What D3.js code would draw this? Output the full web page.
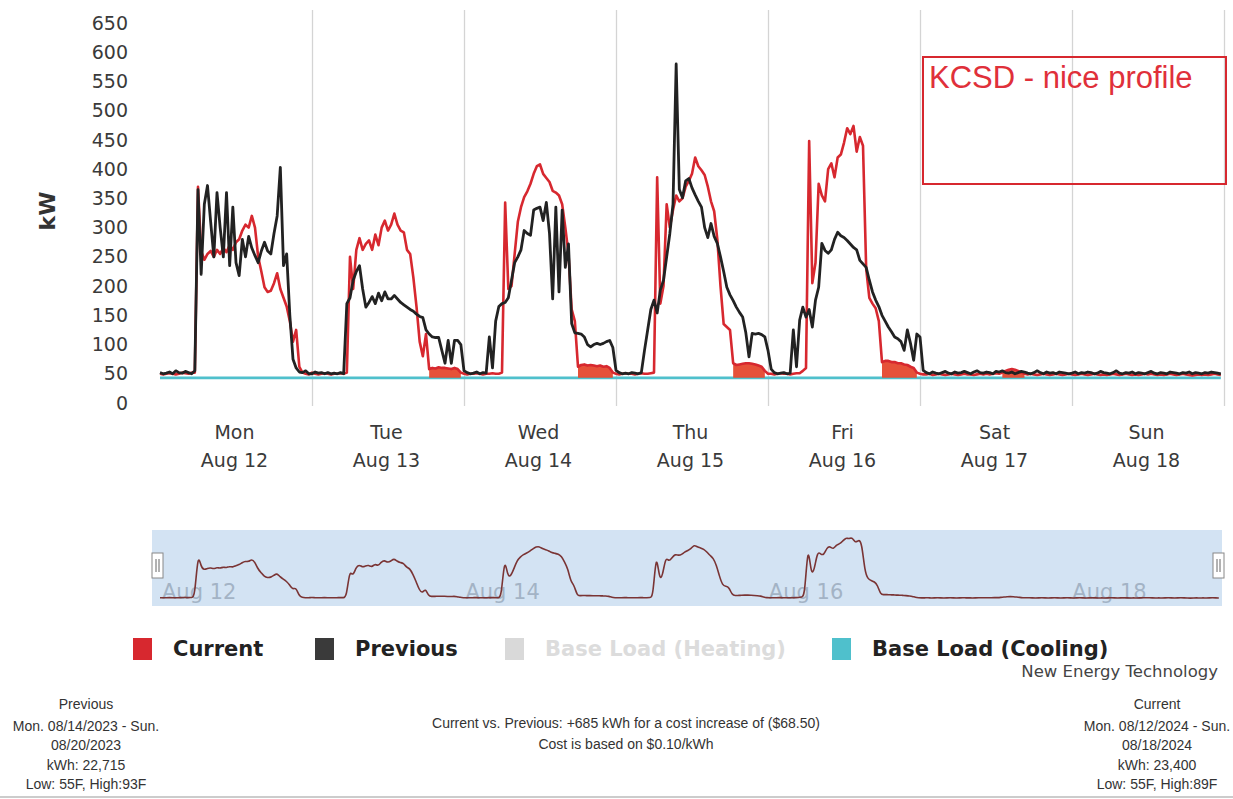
<!DOCTYPE html>
<html><head><meta charset="utf-8">
<script src="https://cdn.jsdelivr.net/npm/d3@7"></script>
<style>body{margin:0;background:#fff}svg{display:block}</style>
</head><body>
<svg id="c" width="1233" height="799"></svg>
<script>
// ---------- DATA (half-hour readings, kW) ----------
const dayNames = ["Mon","Tue","Wed","Thu","Fri","Sat","Sun"];
const dayDates = ["Aug 12","Aug 13","Aug 14","Aug 15","Aug 16","Aug 17","Aug 18"];
const navLabels = ["Aug 12","Aug 14","Aug 16","Aug 18"];
const navLabelDays = [0,2,4,6];
const yTicks = [0,50,100,150,200,250,300,350,400,450,500,550,600,650];

const currentMon = [50,49,50,51,50,49,50,52,51,50,52,52,370,260,245,255,260,250,262,255,265,258,270,262,275,280,295,305,300,320,300,250,225,198,190,192,205,222,195,180,165,140,105,125,62,52,50,49];
const currentTue = [52,50,49,50,51,50,49,50,50,51,50,52,250,195,262,282,262,272,278,262,288,270,300,312,295,305,324,305,295,292,262,255,215,165,105,80,118,58,60,59,61,60,60,59,58,60,58,52];
const currentWed = [50,49,50,50,51,50,49,50,50,51,50,50,52,343,195,200,255,310,335,352,362,375,392,405,408,392,385,378,363,360,355,340,300,255,160,140,62,65,66,64,65,64,63,64,62,63,60,52];
const currentThu = [50,49,50,51,50,50,49,50,51,50,50,51,52,386,170,200,340,300,330,355,345,350,370,380,392,420,405,398,390,370,345,328,280,200,135,130,125,68,65,66,67,68,68,67,66,64,62,55];
const currentFri = [50,50,49,50,51,50,50,49,50,51,51,55,60,448,205,240,375,355,345,400,410,386,420,425,445,470,460,474,430,455,440,230,180,170,162,140,70,72,72,70,70,68,68,66,65,62,60,52];
const currentSat = [50,49,49,50,48,49,50,49,48,49,50,49,48,49,50,49,49,48,49,50,49,50,49,50,51,50,52,55,57,58,57,55,52,50,49,50,49,48,49,50,49,48,49,50,49,48,49,50];
const currentSun = [49,48,49,50,49,48,49,50,49,48,49,48,49,50,49,48,49,50,49,48,49,48,49,50,49,50,49,48,49,48,49,50,49,48,49,50,49,48,47,48,49,48,49,48,49,50,49,48];

const previousMon = [52,50,51,53,50,55,52,51,54,52,50,55,365,220,340,372,310,250,360,300,250,360,235,335,240,218,280,250,285,265,252,240,260,275,260,255,290,320,403,235,255,150,75,60,53,52,55,50];
const previousTue = [50,53,51,52,50,52,50,51,50,52,50,170,180,210,225,235,195,164,172,182,170,188,175,190,178,178,184,178,172,168,164,160,157,152,148,146,125,118,113,112,112,90,68,107,68,107,107,100];
const previousWed = [55,52,50,51,53,50,52,51,113,60,140,165,170,172,180,210,240,250,262,295,290,287,330,333,335,312,343,290,178,335,190,330,232,272,136,120,119,118,113,100,96,100,102,100,102,105,107,95];
const previousThu = [56,52,50,51,50,52,51,50,52,90,125,160,176,154,193,210,250,290,340,580,365,351,380,384,368,356,345,335,300,283,307,285,273,250,225,198,185,175,164,155,147,120,79,119,118,119,117,113];
const previousFri = [90,58,52,50,51,52,50,51,125,62,142,164,147,160,130,176,198,273,261,256,262,280,292,286,283,278,272,266,262,244,238,232,210,190,176,165,150,140,130,122,113,110,105,90,125,102,73,118];
const previousSat = [113,56,52,50,53,51,50,52,54,51,50,53,51,52,54,52,50,53,55,52,51,53,52,50,54,53,55,52,51,53,50,52,54,53,51,50,52,55,52,50,53,51,52,50,53,52,51,50];
const previousSun = [51,53,50,52,51,53,52,50,51,54,52,51,50,52,55,51,50,52,51,53,50,52,51,50,52,54,51,50,52,51,50,53,52,51,50,52,51,53,50,52,51,50,52,51,53,52,51,50];

const baseLoadCooling = [43,43,43,43,43,43,43];
// shaded (after-hours) spans of the current series, as [first,last] half-hour index
const shadedSpans = [[85,95],[132,143],[181,191],[228,239],[266,273]];

const legendNames = ["Current","Previous","Base Load (Heating)","Base Load (Cooling)"];
const legendColors = ["#d7282f","#3a3a3a","#d9d9d9","#4fc0cc"];
const legendText = ["#222","#222","#dcdcdc","#222"];

const footLeft = ["Previous","Mon. 08/14/2023 - Sun.","08/20/2023","kWh: 22,715","Low: 55F, High:93F"];
const footMid = ["Current vs. Previous: +685 kWh for a cost increase of ($68.50)","Cost is based on $0.10/kWh"];
const footRight = ["Current","Mon. 08/12/2024 - Sun.","08/18/2024","kWh: 23,400","Low: 55F, High:89F"];

// ---------- BUILD ----------
const current = [].concat(currentMon,currentTue,currentWed,currentThu,currentFri,currentSat,currentSun);
const previous = [].concat(previousMon,previousTue,previousWed,previousThu,previousFri,previousSat,previousSun);
const N = current.length; // 336
const PER_DAY = 48;

const svg = d3.select("#c");
const x = d3.scaleLinear().domain([0, N]).range([160, 1224]);
const y = d3.scaleLinear().domain([0, 650]).range([403, 23]);

// vertical day gridlines
const grid = svg.append("g").attr("transform","translate(0,406)")
  .call(d3.axisBottom(x).tickValues(d3.range(1,8).map(d=>d*PER_DAY)).tickSize(-396).tickFormat(""));
grid.select(".domain").remove();
grid.selectAll("line").attr("stroke","#d4d4d4").attr("stroke-width",1.3);

// y axis
const ya = svg.append("g").attr("transform","translate(130,0)")
  .call(d3.axisLeft(y).tickValues(yTicks).tickSize(0).tickPadding(2));
ya.select(".domain").remove();
ya.selectAll("text").attr("font-family","DejaVu Sans").attr("font-size",19).attr("fill","#3a3a3a");

svg.append("text").attr("transform","translate(55,211) rotate(-90)")
  .attr("text-anchor","middle").attr("font-family","DejaVu Sans").attr("font-weight","bold")
  .attr("font-size",22).attr("fill","#333").text("kW");

// x axis labels
const xa = svg.append("g").attr("transform","translate(-2,406)")
  .call(d3.axisBottom(x).tickValues(dayNames.map((d,i)=>i*PER_DAY+PER_DAY/2)).tickSize(0).tickFormat(""));
xa.select(".domain").remove();
xa.selectAll(".tick text").each(function(d,i){
  const t = d3.select(this).attr("font-family","DejaVu Sans").attr("font-size",19).attr("fill","#3a3a3a").attr("dy",0).attr("y",0);
  t.append("tspan").attr("x",0).attr("y",33).text(dayNames[i]);
  t.append("tspan").attr("x",0).attr("y",61).text(dayDates[i]);
});

// base load line
const idx = d3.range(N);
svg.append("path").datum(idx)
  .attr("fill","none").attr("stroke","#4fc0cc").attr("stroke-width",2.8)
  .attr("d", d3.line().x(i=>x(i)).y(i=>y(baseLoadCooling[Math.floor(i/PER_DAY)])));

// shaded current area
const inSpan = i => shadedSpans.some(s => i>=s[0] && i<=s[1]);
svg.append("path").datum(idx)
  .attr("fill","#e5482e").attr("opacity",0.95)
  .attr("d", d3.area().defined(inSpan).x(i=>x(i)).y0(i=>y(baseLoadCooling[Math.floor(i/PER_DAY)])).y1(i=>y(current[i])));

// current line
svg.append("path").datum(current)
  .attr("fill","none").attr("stroke","#d7282f").attr("stroke-width",2.6).attr("stroke-linejoin","round")
  .attr("d", d3.line().x((d,i)=>x(i)).y(d=>y(d)));

// previous line
svg.append("path").datum(previous)
  .attr("fill","none").attr("stroke","#222").attr("stroke-width",2.8).attr("stroke-linejoin","round")
  .attr("d", d3.line().x((d,i)=>x(i)).y(d=>y(d)));

// annotation box
svg.append("rect").attr("x",923).attr("y",57).attr("width",303).attr("height",127)
  .attr("fill","none").attr("stroke","#d7282f").attr("stroke-width",2);
svg.append("text").attr("x",929).attr("y",88).attr("font-family","Liberation Sans")
  .attr("font-size",31).attr("fill","#e0303a").text("KCSD - nice profile");

// ---------- NAVIGATOR ----------
const nx = d3.scaleLinear().domain([0, N]).range([160, 1222]);
const ny = d3.scaleLinear().domain([48, 474]).range([598, 537]);
svg.append("rect").attr("x",152).attr("y",530).attr("width",1070).attr("height",76).attr("fill","#d3e3f3");
svg.append("g").selectAll("text").data(navLabels).join("text")
  .attr("x",(d,i)=>nx(navLabelDays[i]*PER_DAY)+2).attr("y",599)
  .attr("font-family","DejaVu Sans").attr("font-size",21).attr("fill","#a3b3c5").text(d=>d);
svg.append("path").datum(current)
  .attr("fill","none").attr("stroke","#7a3434").attr("stroke-width",1.6)
  .attr("d", d3.line().curve(d3.curveBasis).x((d,i)=>nx(i)).y(d=>ny(d)));
[[152,553],[1213,553]].forEach(([hx,hy])=>{
  svg.append("rect").attr("x",hx).attr("y",hy).attr("width",11).attr("height",25)
    .attr("fill","#fff").attr("stroke","#888").attr("stroke-width",1);
  svg.append("line").attr("x1",hx+4).attr("x2",hx+4).attr("y1",hy+6).attr("y2",hy+19).attr("stroke","#666");
  svg.append("line").attr("x1",hx+7).attr("x2",hx+7).attr("y1",hy+6).attr("y2",hy+19).attr("stroke","#666");
});

// ---------- LEGEND ----------
const legX = [133,315,505,832];
const lg = svg.append("g");
legendNames.forEach((n,i)=>{
  lg.append("rect").attr("x",legX[i]).attr("y",638).attr("width",19).attr("height",22).attr("fill",legendColors[i]);
  lg.append("text").attr("x",legX[i]+40).attr("y",656).attr("font-family","DejaVu Sans").attr("font-weight","bold")
    .attr("font-size",21).attr("fill",legendText[i]).text(n);
});
svg.append("text").attr("x",1218).attr("y",677).attr("text-anchor","end").attr("font-family","DejaVu Sans")
  .attr("font-size",16.5).attr("fill","#444").text("New Energy Technology");

// ---------- FOOTER ----------
const fy = [709,731,750,770,789];
const foot = (lines, cx, ys) => svg.append("g").selectAll("text").data(lines).join("text")
  .attr("x",cx).attr("y",(d,i)=>ys[i]).attr("text-anchor","middle")
  .attr("font-family","Liberation Sans").attr("font-size",14).attr("fill","#333").text(d=>d);
foot(footLeft, 86, fy);
foot(footMid, 626, [728,749]);
foot(footRight, 1157, fy);
svg.append("line").attr("x1",0).attr("x2",1233).attr("y1",797).attr("y2",797).attr("stroke","#ccc").attr("stroke-width",2);
</script>
</body></html>
